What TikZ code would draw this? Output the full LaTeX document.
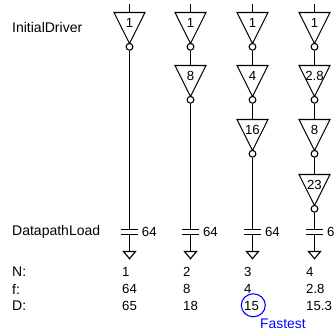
\documentclass[tikz,border=0pt]{standalone}
\usepackage{fontspec}
\setmainfont{Liberation Sans}
\usetikzlibrary{shapes.geometric}
\tikzset{
  wire/.style={line width=1.1bp,black,line cap=butt},
  gatebody/.style={line width=1.1bp,draw=black,line join=miter},
  bubble/.style={circle,draw=black,line width=1.1bp,fill=white,minimum size=6.8bp,inner sep=0pt},
  txt/.style={font=\fontsize{14bp}{15bp}\selectfont,text=black,inner sep=0pt,anchor=west},
  num/.style={font=\fontsize{13.2bp}{15bp}\selectfont,text=black,inner sep=0pt,anchor=west},
  gatetxt/.style={font=\fontsize{13.2bp}{15bp}\selectfont,text=black,inner sep=0pt},
  bluetxt/.style={font=\fontsize{13.9bp}{15bp}\selectfont,text=blue,inner sep=0pt,anchor=west},
  ring/.style={draw=blue,line width=1.1bp,ellipse,minimum width=24bp,minimum height=23bp,inner sep=0pt},
}
% name, x, top y, label
\newcommand{\invgate}[4]{%
  \draw[gatebody] (#2-15.5,#3) -- (#2+15.5,#3) -- (#2,#3+31) -- cycle;
  \coordinate (#1-in) at (#2,#3);
  \node[gatetxt] (#1-t) at (#2,#3+10.8) {#4};
  \node[bubble] (#1-b) at (#2,#3+34.3) {};
}
% name, x, label
\newcommand{\loadcap}[3]{%
  \coordinate (#1-p1) at (#2,229.5);
  \coordinate (#1-p2) at (#2,234.5);
  \coordinate (#1-gnd) at (#2,251.5);
  \draw[wire] (#2-8.5,229.5) -- (#2+8.5,229.5);
  \draw[wire] (#2-8.5,234.5) -- (#2+8.5,234.5);
  \draw[gatebody] (#2-6,251.5) -- (#2+6,251.5) -- (#2,258.7) -- cycle;
  \draw[wire] (#1-p2) -- (#1-gnd);
  \node[num] (#1-v) at (#2+12.3,231.5) {#3};
}
\begin{document}
\begin{tikzpicture}[x=1bp,y=-1bp]
\useasboundingbox (0,0) rectangle (334,332);
\node[txt] (initdrv) at (12,27) {InitialDriver};
\node[txt] (dpload) at (12,231.5) {DatapathLoad};
\node[txt] (nlab) at (12,272) {N:};
\node[txt] (flab) at (12,289) {f:};
\node[txt] (dlab) at (12,306) {D:};
% column 1
\coordinate (s1) at (129.5,4);
\invgate{a1}{129.5}{12.5}{1}
\loadcap{ca}{129.5}{64}
\draw[wire] (s1) -- (a1-in);
\draw[wire] (a1-b) -- (ca-p1);
% column 2
\coordinate (s2) at (190.5,4);
\invgate{b1}{190.5}{12.5}{1}
\invgate{b2}{190.5}{65.5}{8}
\loadcap{cb}{190.5}{64}
\draw[wire] (s2) -- (b1-in);
\draw[wire] (b1-b) -- (b2-in);
\draw[wire] (b2-b) -- (cb-p1);
% column 3
\coordinate (s3) at (252.5,4);
\invgate{c1}{252.5}{12.5}{1}
\invgate{c2}{252.5}{65.5}{4}
\invgate{c3}{252.5}{119.5}{16}
\loadcap{cc}{252.5}{64}
\draw[wire] (s3) -- (c1-in);
\draw[wire] (c1-b) -- (c2-in);
\draw[wire] (c2-b) -- (c3-in);
\draw[wire] (c3-b) -- (cc-p1);
% column 4
\coordinate (s4) at (314.5,4);
\invgate{d1}{314.5}{12.5}{1}
\invgate{d2}{314.5}{65.5}{2.8}
\invgate{d3}{314.5}{119.5}{8}
\invgate{d4}{314.5}{174.5}{23}
\loadcap{cd}{314.5}{64}
\draw[wire] (s4) -- (d1-in);
\draw[wire] (d1-b) -- (d2-in);
\draw[wire] (d2-b) -- (d3-in);
\draw[wire] (d3-b) -- (d4-in);
\draw[wire] (d4-b) -- (cd-p1);
% table
\node[num] (n1) at (122,272) {1};
\node[num] (f1) at (122,289) {64};
\node[num] (d1v) at (122,306) {65};
\node[num] (n2) at (183,272) {2};
\node[num] (f2) at (183,289) {8};
\node[num] (d2v) at (183,306) {18};
\node[num] (n3) at (244,272) {3};
\node[num] (f3) at (244,289) {4};
\node[num] (d3v) at (244,306) {15};
\node[num] (n4) at (306,272) {4};
\node[num] (f4) at (306,289) {2.8};
\node[num] (d4v) at (306,306) {15.3};
\node[ring] (fastring) at (253.3,305.3) {};
\node[bluetxt] (fastest) at (260,324) {Fastest};
\end{tikzpicture}
\end{document}
